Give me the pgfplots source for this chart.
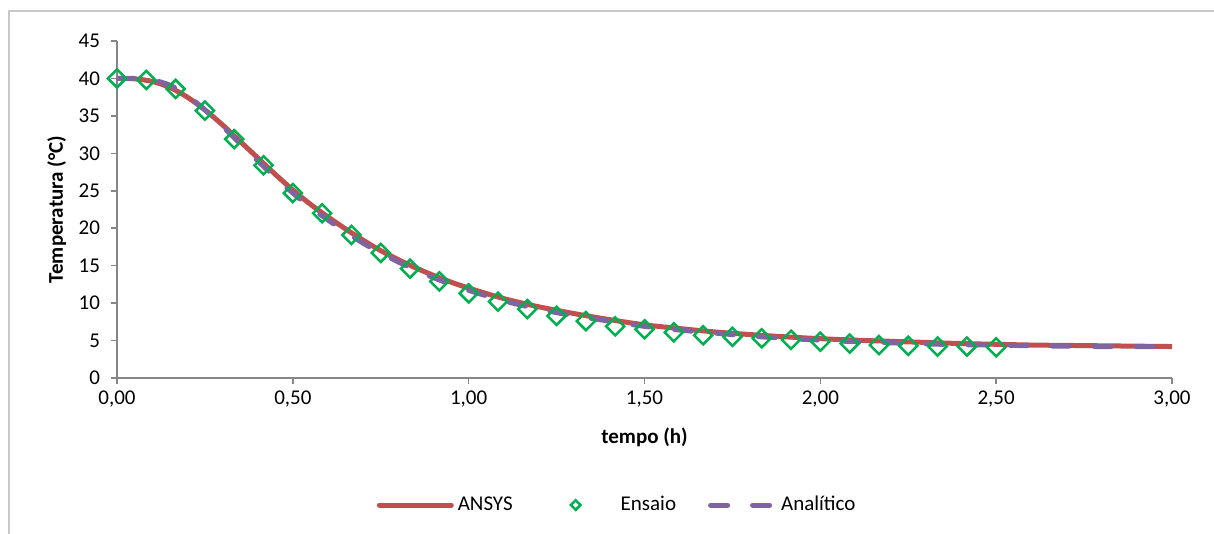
\documentclass[border=0pt]{standalone}
\usepackage{fontspec}
\setmainfont{Carlito}
\usepackage{pgfplots}
\pgfplotsset{compat=1.18}
\definecolor{ansys}{HTML}{C0504D}
\definecolor{ensaio}{HTML}{00B050}
\definecolor{anal}{HTML}{8064A2}
\definecolor{axisgrey}{HTML}{868686}
\definecolor{framegrey}{HTML}{C8C8C8}

\begin{document}
\begin{tikzpicture}[font=\fontsize{10.5}{12}\selectfont]
  \useasboundingbox (0,0) rectangle (607pt,267pt);
  \draw[framegrey,line width=0.8pt] (4.5pt,0) -- (4.5pt,261.5pt) -- (607pt,261.5pt);
  \begin{axis}[
    at={(58.5pt,78pt)}, anchor=south west,
    scale only axis, width=527.5pt, height=168.5pt,
    xmin=0, xmax=3, ymin=0, ymax=45,
    xtick={0,0.5,...,3}, ytick={0,5,...,45},
    axis x line=bottom, axis y line=left,
    axis line style={-,axisgrey,line width=0.75pt},
    tick style={axisgrey,line width=0.75pt},
    tick align=outside, major tick length=3pt,
    xticklabel style={/pgf/number format/.cd,fixed,fixed zerofill,precision=2,use comma},
    yticklabel style={xshift=-2pt},
    /pgf/number format/assume math mode=true,
    xlabel={\bfseries tempo (h)}, ylabel={\bfseries Temperatura (°C)},
    xlabel style={at={(axis description cs:0.5,-0.175)},anchor=center},
    ylabel style={at={(axis description cs:-0.057,0.5)},anchor=center},
    legend columns=3,
    legend style={draw=none, fill=none, at={(axis description cs:0.475,-0.377)}, anchor=center,
      /tikz/every even column/.append style={column sep=14pt},
      font=\fontsize{10.5}{12}\selectfont},
    legend cell align=left,
  ]
    % ANSYS
    \addplot[ansys, line width=2.5pt, smooth,
      legend image code/.code={\draw[ansys,line width=2.5pt,line cap=round] (0pt,0pt) -- (36pt,0pt);}]
      coordinates {
      (0,40.0)(0.05,39.95)(0.1,39.6)(0.15,38.8)(0.2,37.5)(0.25,35.8)(0.3,33.8)
      (0.35,31.6)(0.4,29.4)(0.45,27.2)(0.5,25.1)(0.55,23.2)(0.6,21.5)(0.65,19.9)
      (0.7,18.4)(0.75,17.0)(0.8,15.8)(0.85,14.7)(0.9,13.7)(0.95,12.8)(1.0,12.0)
      (1.1,10.6)(1.2,9.5)(1.3,8.6)(1.4,7.8)(1.5,7.1)(1.6,6.6)(1.7,6.15)(1.8,5.8)
      (1.9,5.5)(2.0,5.25)(2.1,5.05)(2.2,4.9)(2.3,4.75)(2.4,4.6)(2.5,4.5)(2.6,4.4)
      (2.7,4.35)(2.8,4.3)(2.9,4.25)(3.0,4.2)};
    \addlegendentry{ANSYS}
    % Ensaio
    \addplot[only marks, ensaio, mark=square, mark size=3.2pt,
      mark options={rotate=45, line width=1.25pt, fill=none},
      legend image code/.code={\path[draw=none,fill=none] (0pt,0pt) -- (36pt,0pt);
        \draw[ensaio,line width=1.25pt,rotate around={45:(15.5pt,0pt)}] (13.8pt,-1.7pt) rectangle (17.2pt,1.7pt);}]
      coordinates {
      (0,40.0)(0.0833,39.8)(0.1667,38.6)(0.25,35.7)(0.3333,31.9)(0.4167,28.4)
      (0.5,24.7)(0.5833,22.0)(0.6667,19.1)(0.75,16.7)(0.8333,14.6)(0.9167,12.9)
      (1.0,11.3)(1.0833,10.2)(1.1667,9.2)(1.25,8.3)(1.3333,7.6)(1.4167,6.9)
      (1.5,6.5)(1.5833,6.1)(1.6667,5.7)(1.75,5.5)(1.8333,5.3)(1.9167,5.1)
      (2.0,4.85)(2.0833,4.6)(2.1667,4.4)(2.25,4.3)(2.3333,4.2)(2.4167,4.2)(2.5,4.1)};
    \addlegendentry{Ensaio}
    % Analitico
    \addplot[anal, line width=2.5pt, smooth, line cap=round,
      dash pattern=on 8.5pt off 12.5pt,
      legend image code/.code={\draw[anal,line width=2.5pt,line cap=round,dash pattern=on 8.5pt off 12.5pt] (2pt,0pt) -- (34pt,0pt);}]
      coordinates {
      (0,40.0)(0.05,40.0)(0.1,39.8)(0.15,39.1)(0.2,37.7)(0.25,35.8)(0.3,33.6)
      (0.35,31.3)(0.4,29.0)(0.45,26.8)(0.5,24.7)(0.55,22.8)(0.6,21.1)(0.65,19.5)
      (0.7,18.0)(0.75,16.7)(0.8,15.5)(0.85,14.4)(0.9,13.4)(0.95,12.5)(1.0,11.7)
      (1.1,10.3)(1.2,9.2)(1.3,8.3)(1.4,7.6)(1.5,6.9)(1.6,6.4)(1.7,6.0)(1.8,5.6)
      (1.9,5.3)(2.0,5.05)(2.1,4.85)(2.2,4.7)(2.3,4.55)(2.4,4.45)(2.5,4.4)(2.6,4.3)
      (2.7,4.25)(2.8,4.2)(2.9,4.2)(3.0,4.15)};
    \addlegendentry{Analítico}
  \end{axis}
\end{tikzpicture}
\end{document}
